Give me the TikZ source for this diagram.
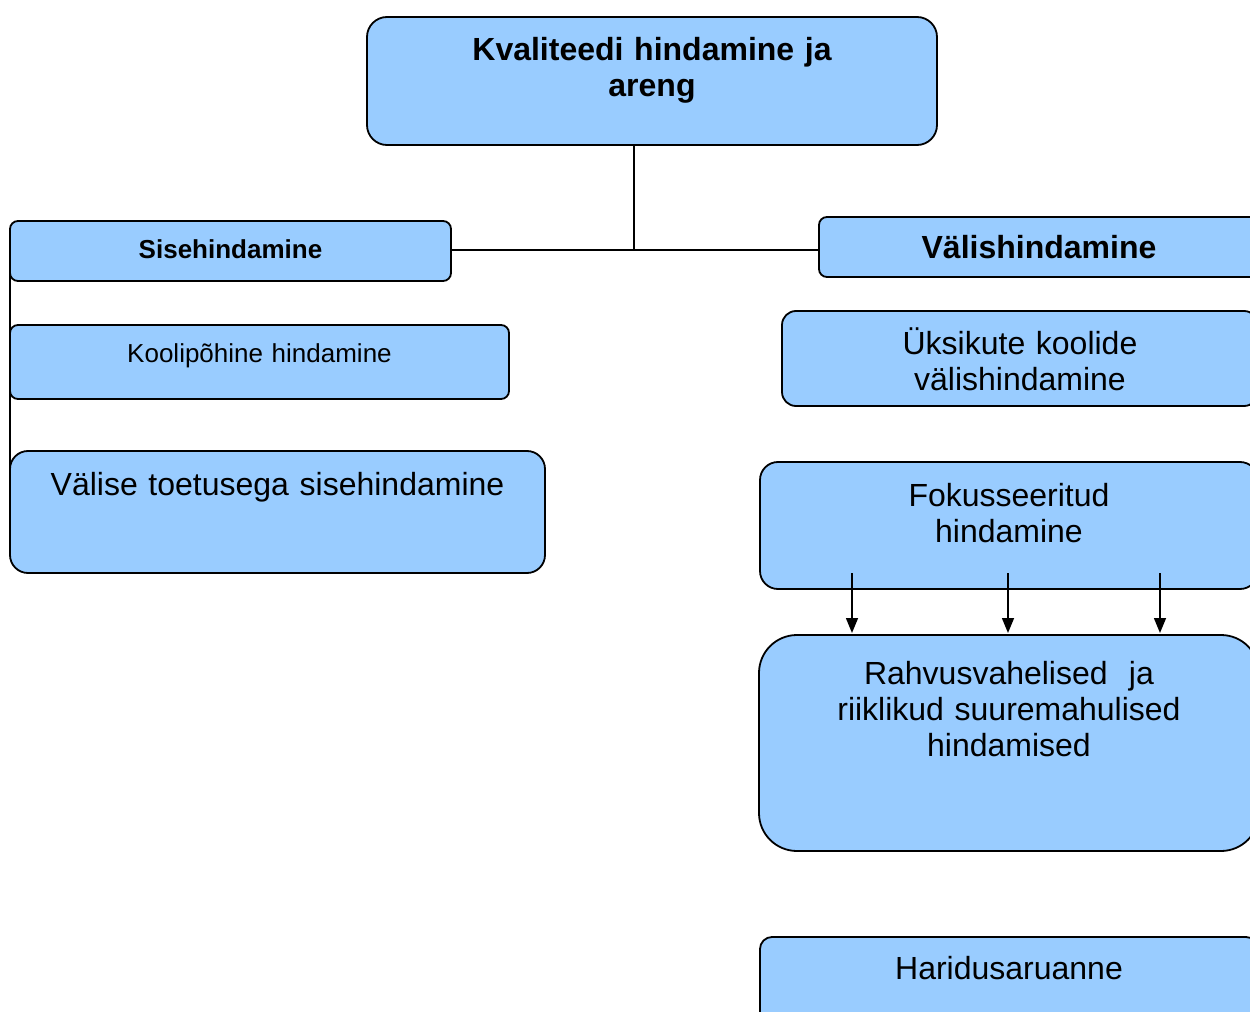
\documentclass[tikz,border=0pt]{standalone}
\usepackage{fontspec}
\setmainfont{Liberation Sans}
\usetikzlibrary{arrows.meta}
\usetikzlibrary{calc}

\definecolor{boxblue}{RGB}{153,204,255}

\tikzset{
  kast/.style={draw, fill=boxblue, line width=0.9pt, inner sep=0pt, outer sep=0pt, anchor=north, align=center},
  suur/.style={font=\fontsize{16}{18}\selectfont},
  vaike/.style={font=\fontsize{13}{15.6}\selectfont},
  paks/.style={font=\fontsize{16}{18}\selectfont\bfseries},
  vaikepaks/.style={font=\fontsize{13}{15.6}\selectfont\bfseries},
  joon/.style={line width=0.75pt},
  nool/.style={line width=0.75pt, -{Triangle[width=6pt,length=7.5pt]}, shorten >=1pt}
}

\begin{document}
\begin{tikzpicture}[x=0.5pt,y=-0.5pt]
                \useasboundingbox (0,0) rectangle (1250,1012);
                \node[kast, paks, rounded corners=10pt, text width=285pt, text height=22pt, text depth=42pt] (KvalHind) at (652,17) {Kvaliteedi hindamine ja\\areng};
                \node[kast, vaikepaks, rounded corners=4pt, text width=220.5pt, text height=18.5pt, text depth=11.5pt] (SiseH) at (230.5,221) {Sisehindamine};
                \node[kast, vaike, rounded corners=4pt, text width=249.5pt, text height=18.5pt, text depth=18.5pt] (KooliH) at (259.5,325) {Koolipõhine hindamine};
                \node[kast, suur, rounded corners=9pt, text width=267.5pt, text height=22pt, text depth=39pt] (ValiseTH) at (277.5,451) {Välise toetusega sisehindamine};
                \node[kast, paks, rounded corners=4pt, text width=220pt, text height=20.5pt, text depth=9.5pt] (ValisH) at (1039,217) {Välishindamine};
                \node[kast, suur, rounded corners=7pt, text width=238pt, text height=21.5pt, text depth=26pt] (YksikH) at (1020,311) {Üksikute koolide\\välishindamine};
                \node[kast, suur, rounded corners=9pt, text width=249pt, text height=22pt, text depth=41.5pt] (FokusH) at (1009,462) {Fokusseeritud\\hindamine};
                \node[kast, suur, rounded corners=19pt, text width=250pt, text height=24.5pt, text depth=83.5pt] (RahvH) at (1009,635) {Rahvusvahelised\ \ ja\\riiklikud suuremahulised\\hindamised};
                \node[kast, suur, rounded corners=6pt, text width=249pt, text height=21pt, text depth=25.5pt] (HaridA) at (1009,937) {Haridusaruanne};
                \coordinate (Haru) at (634,250);
                \coordinate (SiseAlus) at (10,512);
                \coordinate (Nool1) at (852,573);
                \coordinate (Nool2) at (1008,573);
                \coordinate (Nool3) at (1160,573);
                \draw[joon] (KvalHind.south -| Haru) to (Haru);
                \draw[joon] (SiseH.east |- Haru) to (ValisH.west |- Haru);
                \draw[joon] (SiseH.west) to (SiseAlus);
                \draw[nool] (Nool1) to (Nool1 |- RahvH.north);
                \draw[nool] (Nool2) to (Nool2 |- RahvH.north);
                \draw[nool] (Nool3) to (Nool3 |- RahvH.north);
            \end{tikzpicture}
\end{document}
